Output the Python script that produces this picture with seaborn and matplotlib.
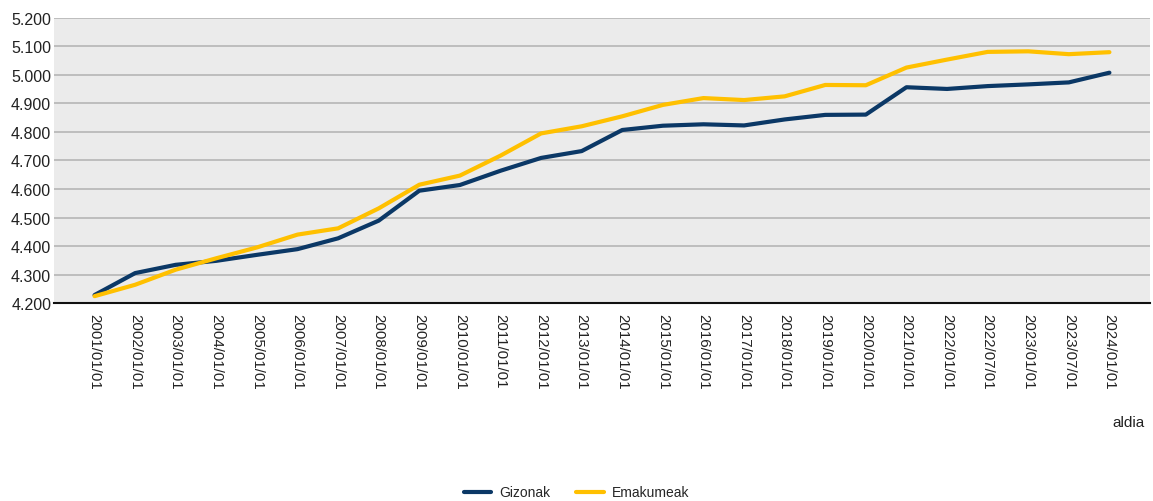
import pandas as pd
import matplotlib
matplotlib.use('Agg')
import matplotlib.pyplot as plt
import seaborn as sns

aldiak = ['2001/01/01', '2002/01/01', '2003/01/01', '2004/01/01', '2005/01/01',
          '2006/01/01', '2007/01/01', '2008/01/01', '2009/01/01', '2010/01/01',
          '2011/01/01', '2012/01/01', '2013/01/01', '2014/01/01', '2015/01/01',
          '2016/01/01', '2017/01/01', '2018/01/01', '2019/01/01', '2020/01/01',
          '2021/01/01', '2022/01/01', '2022/07/01', '2023/01/01', '2023/07/01',
          '2024/01/01']
gizonak = [4228, 4305, 4334, 4348, 4369, 4389, 4427, 4489, 4594, 4614,
           4664, 4709, 4733, 4807, 4822, 4827, 4823, 4844, 4860, 4861,
           4957, 4951, 4961, 4967, 4974, 5008]
emakumeak = [4224, 4264, 4317, 4357, 4395, 4440, 4462, 4532, 4615, 4647,
             4717, 4795, 4820, 4855, 4895, 4919, 4912, 4925, 4965, 4964,
             5026, 5054, 5081, 5083, 5073, 5080]
series_names = ['Gizonak', 'Emakumeak']
colors = ['#0b3866', '#ffc000']
y_ticks = [4200, 4300, 4400, 4500, 4600, 4700, 4800, 4900, 5000, 5100, 5200]

df = pd.DataFrame({
    'aldia': aldiak * 2,
    'value': gizonak + emakumeak,
    'serie': [series_names[0]] * len(aldiak) + [series_names[1]] * len(aldiak),
})

sns.set_style('white')
plt.rcParams['font.family'] = ['Liberation Sans', 'DejaVu Sans']

fig = plt.figure(figsize=(11.53, 5.02), dpi=100)
ax = fig.add_axes([0.0468, 0.3944, 0.9506, 0.5678])
ax.set_facecolor('#ebebeb')

sns.lineplot(data=df, x='aldia', y='value', hue='serie',
             palette=colors, linewidth=3, ax=ax, legend=True, sort=False)

ax.set_xlim(-1, len(aldiak))
ax.set_ylim(4200, 5200)
ax.set_yticks(y_ticks)
ax.set_yticklabels([f'{v/1000:.3f}' for v in y_ticks], fontsize=11.5, color='#222222')
ax.set_xticks(range(len(aldiak)))
ax.set_xticklabels(aldiak, rotation=270, ha='center', va='top', fontsize=10.8, color='#222222')
ax.tick_params(axis='x', length=0, pad=7)
ax.tick_params(axis='y', length=0, pad=2)
ax.grid(axis='y', color='#bababa', linewidth=1.3)
ax.set_axisbelow(True)
for s in ['left', 'right', 'top']:
    ax.spines[s].set_visible(False)
ax.spines['bottom'].set_color('#111111')
ax.spines['bottom'].set_linewidth(1.5)
ax.set_xlabel('')
ax.set_ylabel('')

fig.text(0.993, 0.158, 'aldia', ha='right', va='center', fontsize=11, color='#222222')

handles, labels = ax.get_legend_handles_labels()
ax.get_legend().remove()
fig.legend(handles, labels, loc='center', bbox_to_anchor=(0.5, 0.017), ncol=2,
           frameon=False, fontsize=10, handlelength=2.0, columnspacing=1.8,
           handletextpad=0.6)

fig.savefig('out.png', dpi=100)
